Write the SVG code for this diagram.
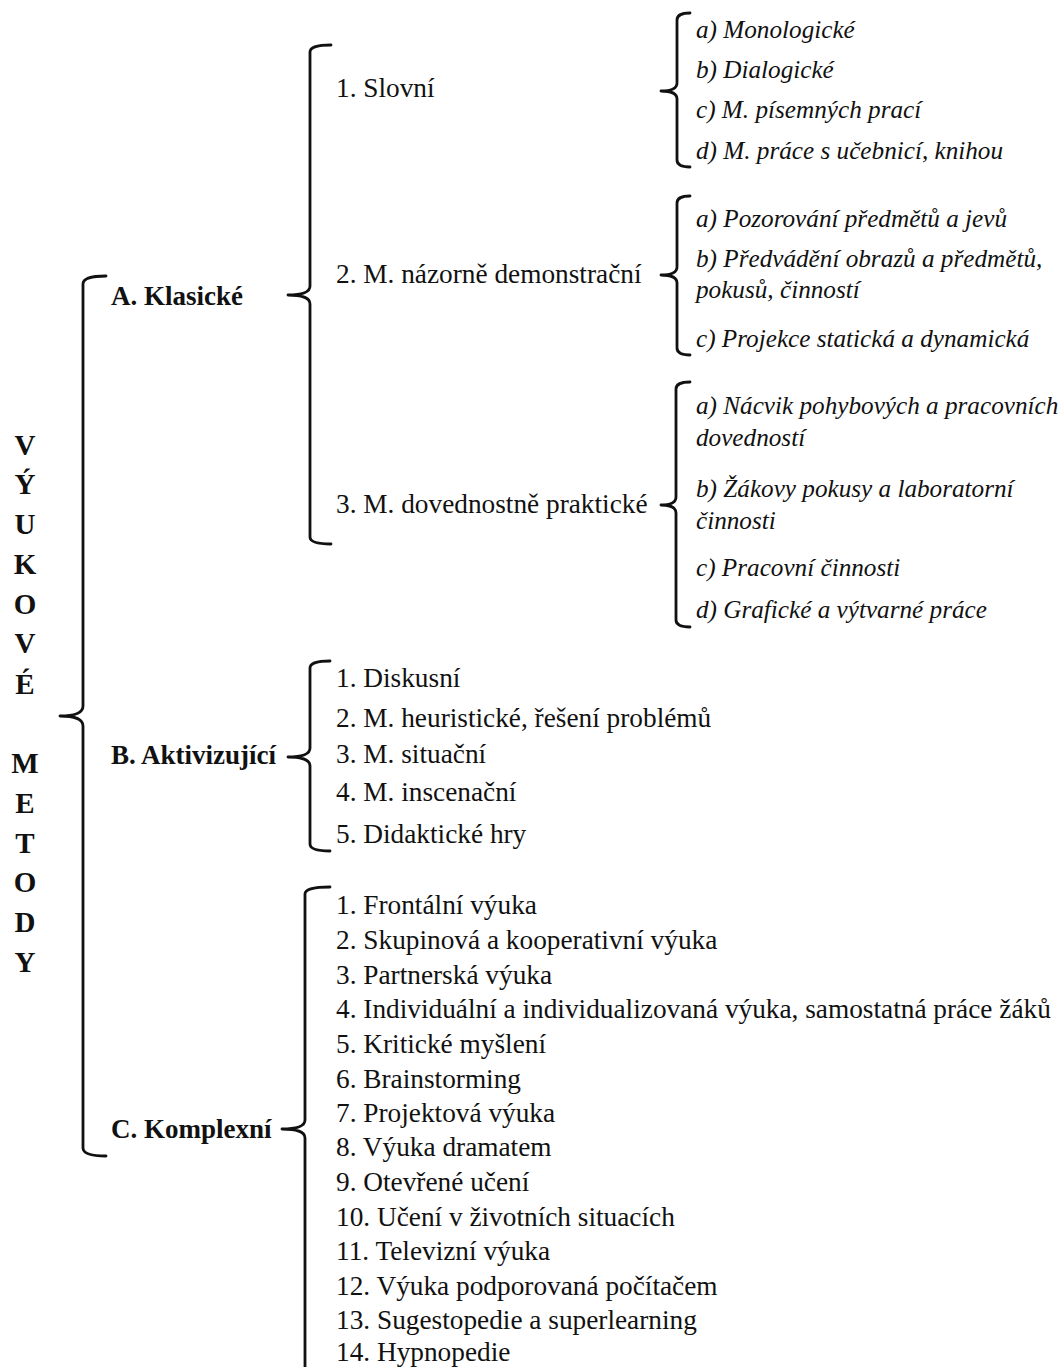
<svg xmlns="http://www.w3.org/2000/svg" width="1062" height="1367" viewBox="0 0 1062 1367">
<style>
text{font-family:"Liberation Serif","Times New Roman",serif;fill:#111}
.r{font-size:27.3px}
.i{font-size:25.2px;font-style:italic}
.b{font-size:27px;font-weight:bold}
.v{font-size:29px;font-weight:bold;text-anchor:middle}
.br{fill:none;stroke:#111;stroke-width:2.8;stroke-linecap:round;stroke-linejoin:round}
</style>
<rect width="1062" height="1367" fill="#fff"/>
<g id="root">
<text class="v" x="25" y="455">V</text>
<text class="v" x="25" y="494">Ý</text>
<text class="v" x="25" y="534">U</text>
<text class="v" x="25" y="574">K</text>
<text class="v" x="25" y="614">O</text>
<text class="v" x="25" y="653">V</text>
<text class="v" x="25" y="694">É</text>
<text class="v" x="25" y="773">M</text>
<text class="v" x="25" y="813">E</text>
<text class="v" x="25" y="853">T</text>
<text class="v" x="25" y="892">O</text>
<text class="v" x="25" y="932">D</text>
<text class="v" x="25" y="972">Y</text>
</g>
<g id="connectors">
<path class="br" d="M106 276 Q83 276 83 284 L83 706 Q83 716 60 716 Q83 716 83 726 L83 1148 Q83 1156 106 1156"/>
<path class="br" d="M331 45 Q310 45 310 52 L310 286 Q310 295 288 295 Q310 295 310 304 L310 537 Q310 544 331 544"/>
<path class="br" d="M330 661 Q310 661 310 668 L310 748 Q310 757 288 757 Q310 757 310 766 L310 844 Q310 851 330 851"/>
<path class="br" d="M330 887 Q305 887 305 894 L305 1120 Q305 1129 282 1129 Q305 1129 305 1138 L305 1370"/>
<path class="br" d="M690 13 Q677 13 677 20 L677 83 Q677 91 661 91 Q677 91 677 99 L677 160 Q677 167 690 167"/>
<path class="br" d="M690 196 Q677 196 677 203 L677 267 Q677 275 661 275 Q677 275 677 283 L677 348 Q677 355 690 355"/>
<path class="br" d="M690 382 Q676 382 676 389 L676 497 Q676 505 661 505 Q676 505 676 513 L676 620 Q676 627 690 627"/>
</g>
<g id="A">
<text class="b" x="111" y="305">A. Klasické</text>
</g>
<g id="A1">
<text class="r" x="336" y="97">1. Slovní</text>
<text class="i" x="696" y="38">a) Monologické</text>
<text class="i" x="696" y="78">b) Dialogické</text>
<text class="i" x="696" y="118">c) M. písemných prací</text>
<text class="i" x="696" y="159">d) M. práce s učebnicí, knihou</text>
</g>
<g id="A2">
<text class="r" x="336" y="283">2. M. názorně demonstrační</text>
<text class="i" x="696" y="227">a) Pozorování předmětů a jevů</text>
<text class="i" x="696" y="267">b) Předvádění obrazů a předmětů,</text>
<text class="i" x="696" y="298">pokusů, činností</text>
<text class="i" x="696" y="347">c) Projekce statická a dynamická</text>
</g>
<g id="A3">
<text class="r" x="336" y="513">3. M. dovednostně praktické</text>
<text class="i" x="696" y="414">a) Nácvik pohybových a pracovních</text>
<text class="i" x="696" y="446">dovedností</text>
<text class="i" x="696" y="497">b) Žákovy pokusy a laboratorní</text>
<text class="i" x="696" y="529">činnosti</text>
<text class="i" x="696" y="576">c) Pracovní činnosti</text>
<text class="i" x="696" y="618">d) Grafické a výtvarné práce</text>
</g>
<g id="B">
<text class="b" x="111" y="764">B. Aktivizující</text>
<text class="r" x="336" y="687">1. Diskusní</text>
<text class="r" x="336" y="727">2. M. heuristické, řešení problémů</text>
<text class="r" x="336" y="763">3. M. situační</text>
<text class="r" x="336" y="801">4. M. inscenační</text>
<text class="r" x="336" y="843">5. Didaktické hry</text>
</g>
<g id="C">
<text class="b" x="111" y="1138">C. Komplexní</text>
<text class="r" x="336" y="914">1. Frontální výuka</text>
<text class="r" x="336" y="949">2. Skupinová a kooperativní výuka</text>
<text class="r" x="336" y="984">3. Partnerská výuka</text>
<text class="r" x="336" y="1018">4. Individuální a individualizovaná výuka, samostatná práce žáků</text>
<text class="r" x="336" y="1053">5. Kritické myšlení</text>
<text class="r" x="336" y="1088">6. Brainstorming</text>
<text class="r" x="336" y="1122">7. Projektová výuka</text>
<text class="r" x="336" y="1156">8. Výuka dramatem</text>
<text class="r" x="336" y="1191">9. Otevřené učení</text>
<text class="r" x="336" y="1226">10. Učení v životních situacích</text>
<text class="r" x="336" y="1260">11. Televizní výuka</text>
<text class="r" x="336" y="1295">12. Výuka podporovaná počítačem</text>
<text class="r" x="336" y="1329">13. Sugestopedie a superlearning</text>
<text class="r" x="336" y="1361">14. Hypnopedie</text>
</g>
</svg>
